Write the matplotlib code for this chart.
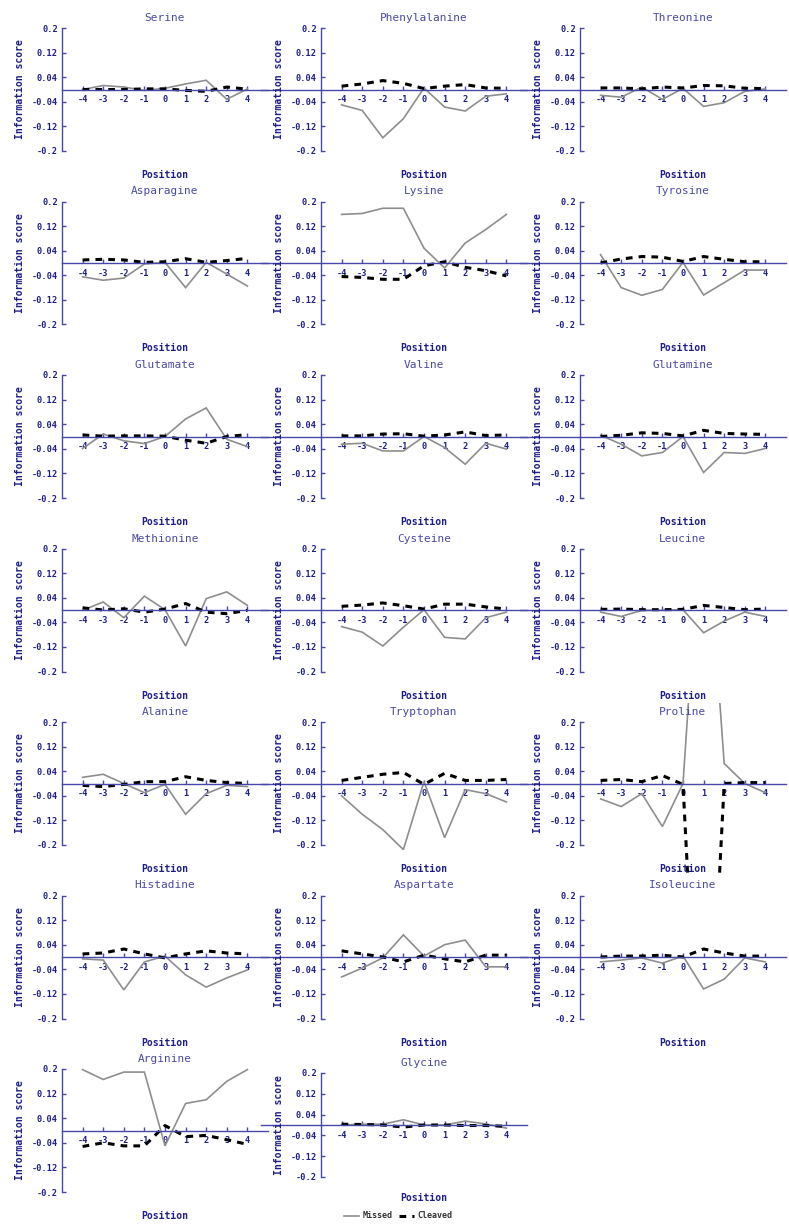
import matplotlib
matplotlib.use("Agg")
import matplotlib.pyplot as plt
from matplotlib.lines import Line2D
from matplotlib.ticker import FuncFormatter
from matplotlib.transforms import Bbox, TransformedBbox

positions = [-4, -3, -2, -1, 0, 1, 2, 3, 4]
y_ticks = [0.2, 0.12, 0.04, -0.04, -0.12, -0.2]

# values: (missed, cleaved) per residue
serine_missed = [0.0, 0.013, 0.008, -0.003, 0.004, 0.018, 0.03, -0.032, 0.002]
serine_cleaved = [0.0, 0.0, 0.0, 0.002, 0.002, -0.003, -0.006, 0.008, 0.001]
phenylalanine_missed = [-0.05, -0.068, -0.157, -0.095, 0.005, -0.057, -0.07, -0.022, -0.014]
phenylalanine_cleaved = [0.011, 0.018, 0.029, 0.02, 0.003, 0.011, 0.016, 0.005, 0.004]
threonine_missed = [-0.019, -0.025, 0.008, -0.032, 0.004, -0.055, -0.043, -0.006, 0.002]
threonine_cleaved = [0.005, 0.005, 0.002, 0.008, 0.005, 0.013, 0.012, 0.004, 0.003]
asparagine_missed = [-0.045, -0.056, -0.049, -0.003, 0.002, -0.08, 0.002, -0.036, -0.075]
asparagine_cleaved = [0.01, 0.012, 0.01, 0.002, 0.004, 0.014, 0.002, 0.008, 0.015]
lysine_missed = [0.158, 0.161, 0.178, 0.178, 0.048, -0.016, 0.065, 0.109, 0.158]
lysine_cleaved = [-0.044, -0.047, -0.053, -0.053, -0.009, 0.004, -0.014, -0.025, -0.042]
tyrosine_missed = [0.027, -0.08, -0.105, -0.086, 0.002, -0.104, -0.064, -0.023, -0.023]
tyrosine_cleaved = [0.0, 0.013, 0.021, 0.019, 0.005, 0.021, 0.012, 0.004, 0.004]
glutamate_missed = [-0.039, 0.008, -0.014, -0.023, 0.0, 0.057, 0.093, -0.009, -0.033]
glutamate_cleaved = [0.005, 0.001, 0.002, 0.002, 0.001, -0.012, -0.022, 0.0, 0.006]
valine_missed = [-0.025, -0.022, -0.047, -0.047, 0.0, -0.036, -0.09, -0.022, -0.041]
valine_cleaved = [0.002, 0.002, 0.008, 0.009, 0.001, 0.005, 0.015, 0.003, 0.005]
glutamine_missed = [0.004, -0.025, -0.063, -0.052, 0.0, -0.117, -0.052, -0.055, -0.039]
glutamine_cleaved = [0.0, 0.004, 0.012, 0.01, 0.002, 0.02, 0.01, 0.008, 0.007]
methionine_missed = [-0.001, 0.026, -0.025, 0.045, 0.001, -0.117, 0.037, 0.059, 0.015]
methionine_cleaved = [0.007, 0.0, 0.004, -0.007, 0.003, 0.021, -0.007, -0.012, -0.001]
cysteine_missed = [-0.054, -0.072, -0.117, -0.056, 0.001, -0.089, -0.094, -0.025, -0.007]
cysteine_cleaved = [0.012, 0.016, 0.023, 0.014, 0.003, 0.019, 0.019, 0.01, 0.003]
leucine_missed = [-0.007, -0.021, -0.001, -0.001, 0.001, -0.074, -0.036, -0.007, -0.021]
leucine_cleaved = [0.002, 0.003, 0.001, 0.001, 0.002, 0.015, 0.008, 0.001, 0.003]
alanine_missed = [0.02, 0.03, 0.0, -0.03, -0.003, -0.1, -0.033, -0.006, -0.01]
alanine_cleaved = [-0.006, -0.01, -0.003, 0.006, 0.006, 0.022, 0.01, 0.003, 0.0]
tryptophan_missed = [-0.04, -0.1, -0.15, -0.215, 0.006, -0.176, -0.02, -0.033, -0.06]
tryptophan_cleaved = [0.01, 0.02, 0.03, 0.036, -0.003, 0.033, 0.01, 0.01, 0.013]
proline_missed = [-0.05, -0.075, -0.033, -0.14, 0.0, 1.0, 0.065, 0.0, -0.03]
proline_cleaved = [0.01, 0.013, 0.006, 0.026, -0.003, -1.3, 0.0, 0.003, 0.003]
histadine_missed = [-0.006, -0.01, -0.107, -0.016, 0.003, -0.058, -0.098, -0.068, -0.042]
histadine_cleaved = [0.01, 0.013, 0.026, 0.01, -0.003, 0.01, 0.02, 0.013, 0.01]
aspartate_missed = [-0.065, -0.036, -0.003, 0.072, 0.003, 0.04, 0.055, -0.032, -0.032]
aspartate_cleaved = [0.02, 0.01, 0.0, -0.016, 0.006, -0.006, -0.016, 0.006, 0.006]
isoleucine_missed = [-0.016, -0.01, -0.003, -0.02, 0.003, -0.104, -0.072, -0.003, -0.016]
isoleucine_cleaved = [0.0, 0.003, 0.003, 0.006, 0.0, 0.026, 0.013, 0.003, 0.003]
arginine_missed = [0.198, 0.166, 0.19, 0.19, -0.05, 0.088, 0.1, 0.16, 0.198]
arginine_cleaved = [-0.052, -0.04, -0.05, -0.05, 0.016, -0.02, -0.016, -0.03, -0.045]
glycine_missed = [0.0, 0.003, 0.003, 0.02, 0.0, 0.0, 0.015, 0.004, -0.012]
glycine_cleaved = [0.003, 0.002, 0.0, -0.008, 0.0, 0.0, -0.002, -0.002, -0.005]

panels = [
    ("Serine", serine_missed, serine_cleaved),
    ("Phenylalanine", phenylalanine_missed, phenylalanine_cleaved),
    ("Threonine", threonine_missed, threonine_cleaved),
    ("Asparagine", asparagine_missed, asparagine_cleaved),
    ("Lysine", lysine_missed, lysine_cleaved),
    ("Tyrosine", tyrosine_missed, tyrosine_cleaved),
    ("Glutamate", glutamate_missed, glutamate_cleaved),
    ("Valine", valine_missed, valine_cleaved),
    ("Glutamine", glutamine_missed, glutamine_cleaved),
    ("Methionine", methionine_missed, methionine_cleaved),
    ("Cysteine", cysteine_missed, cysteine_cleaved),
    ("Leucine", leucine_missed, leucine_cleaved),
    ("Alanine", alanine_missed, alanine_cleaved),
    ("Tryptophan", tryptophan_missed, tryptophan_cleaved),
    ("Proline", proline_missed, proline_cleaved),
    ("Histadine", histadine_missed, histadine_cleaved),
    ("Aspartate", aspartate_missed, aspartate_cleaved),
    ("Isoleucine", isoleucine_missed, isoleucine_cleaved),
    ("Arginine", arginine_missed, arginine_cleaved),
    ("Glycine", glycine_missed, glycine_cleaved),
]

W, H = 789, 1224
axis_col = "#4848ac"
label_col = "#1e1e8a"
title_col = "#4a4aa8"
mono = "DejaVu Sans Mono"
miss_style = dict(color="#8e8e8e", lw=1.2, solid_joinstyle="miter")
cleave_style = dict(color="black", lw=2.2, linestyle=(0, (2.2, 2.0)))

fig = plt.figure(figsize=(W / 100, H / 100), dpi=100)

col_x = [62, 321, 580]
ax_w = 206

for i, (name, miss, cleav) in enumerate(panels):
    r, c = divmod(i, 3)
    left = col_x[c]
    top = 28 + 173.5 * r
    h = 123
    below = 24
    if name == "Glycine":
        # last panel is squeezed to make room for the legend
        top, h, below = 1073, 104, 21
    ax = fig.add_axes([left / W, 1 - (top + h) / H, ax_w / W, h / H])
    ax.patch.set_visible(False)
    ax.set_xlim(-5, 5)
    ax.set_ylim(-0.2, 0.2)
    ax.spines["top"].set_visible(False)
    ax.spines["right"].set_visible(False)
    ax.spines["bottom"].set_position(("data", 0))
    for s in ["bottom", "left"]:
        ax.spines[s].set_color(axis_col)
        ax.spines[s].set_linewidth(1)
    ax.set_xticks(positions)
    ax.set_yticks(y_ticks)
    ax.xaxis.set_major_formatter(FuncFormatter(lambda v, p: f"{v:g}"))
    ax.yaxis.set_major_formatter(FuncFormatter(lambda v, p: f"{v:g}"))
    ax.tick_params(direction="in", length=3, width=1, color=axis_col,
                   labelcolor=label_col, labelsize=6.2)
    ax.tick_params(axis="x", pad=4.2)
    ax.tick_params(axis="y", pad=3)
    for lab in ax.get_xticklabels() + ax.get_yticklabels():
        lab.set_fontfamily(mono)
        lab.set_fontweight("bold")

    # zero line runs on to the left of the y axis for inner columns
    if c > 0:
        ax.plot([-60 / ax_w, 0], [0, 0], transform=ax.get_yaxis_transform(),
                color=axis_col, lw=1, clip_on=False)

    clip = TransformedBbox(
        Bbox.from_extents((left - 20) / W, 1 - (top + h + 30) / H,
                          (left + ax_w + 10) / W, 1 - (top - 19) / H),
        fig.transFigure)
    l1, = ax.plot(positions, miss, **miss_style)
    l2, = ax.plot(positions, cleav, **cleave_style)
    l1.set_clip_box(clip)
    l2.set_clip_box(clip)

    ax.text(0.5, 1 + 10 / h, name, transform=ax.transAxes, ha="center",
            va="center", fontsize=8, family=mono, color=title_col)
    ax.text(0.5, -below / h, "Position", transform=ax.transAxes, ha="center",
            va="center", fontsize=7, family=mono, fontweight="bold", color=label_col)
    ax.text(-42 / ax_w, 0.5, "Information score", transform=ax.transAxes,
            rotation=90, ha="center", va="center", fontsize=7, family=mono,
            fontweight="bold", color=label_col)

handles = [Line2D([], [], **miss_style), Line2D([], [], **cleave_style)]
fig.legend(handles, ["Missed", "Cleaved"], loc="center",
           bbox_to_anchor=(398 / W, 1 - 1216 / H), ncol=2, frameon=False,
           prop={"family": mono, "weight": "bold", "size": 6},
           handlelength=1.8, handletextpad=0.4, columnspacing=0.8,
           labelcolor="#333333")

fig.savefig("out.png", dpi=100, facecolor="white")
